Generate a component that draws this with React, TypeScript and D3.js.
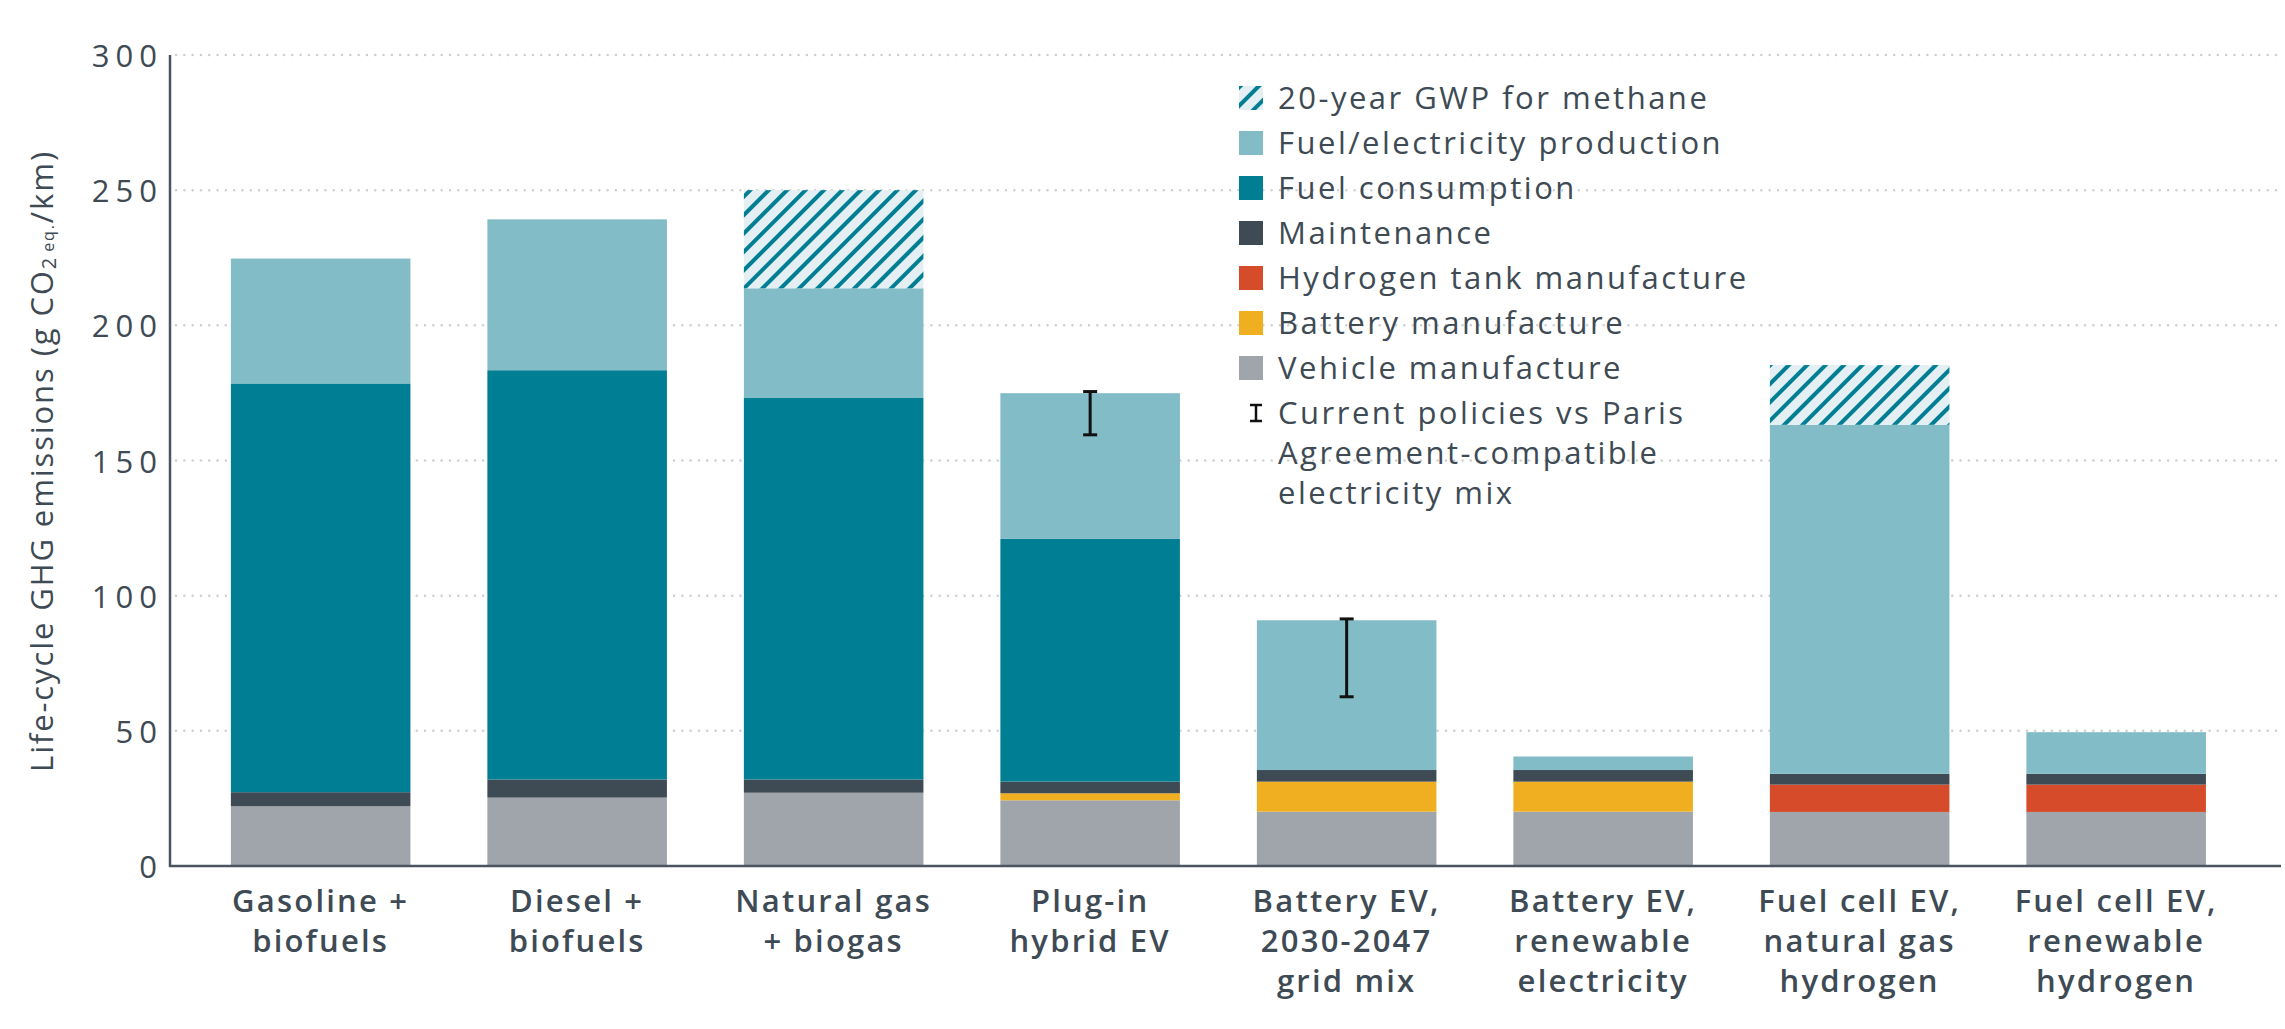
import React from "react";
import * as d3 from "d3";

// ---------- data ----------
const categoryLabels: string[][] = [
  ["Gasoline +", "biofuels"],
  ["Diesel +", "biofuels"],
  ["Natural gas", "+ biogas"],
  ["Plug-in", "hybrid EV"],
  ["Battery EV,", "2030-2047", "grid mix"],
  ["Battery EV,", "renewable", "electricity"],
  ["Fuel cell EV,", "natural gas", "hydrogen"],
  ["Fuel cell EV,", "renewable", "hydrogen"],
];
const categories = categoryLabels.map((l) => l.join(" "));

const vehicleManufacture = [22.1, 25.3, 27.1, 24.3, 20.1, 20.1, 20.0, 20.0];
const batteryManufacture = [0, 0, 0, 2.6, 11.1, 11.1, 0, 0];
const hydrogenTankManufacture = [0, 0, 0, 0, 0, 0, 10.1, 10.1];
const maintenance = [5.2, 6.7, 4.9, 4.3, 4.3, 4.3, 4.0, 4.0];
const fuelConsumption = [151.2, 151.4, 141.3, 89.8, 0, 0, 0, 0];
const fuelProduction = [46.2, 55.8, 40.4, 53.9, 55.4, 5.0, 129.1, 15.4];
const methaneGwp20 = [0, 0, 36.3, 0, 0, 0, 22.1, 0];

const errorLow: (number | null)[] = [null, null, null, 159.5, 62.6, null, null, null];
const errorHigh: (number | null)[] = [null, null, null, 175.5, 91.4, null, null, null];

const yTicks = [0, 50, 100, 150, 200, 250, 300];

const seriesKeys = [
  "vehicle",
  "battery",
  "h2tank",
  "maintenance",
  "fuelConsumption",
  "fuelProduction",
  "methane",
];
const seriesValues: Record<string, number[]> = {
  vehicle: vehicleManufacture,
  battery: batteryManufacture,
  h2tank: hydrogenTankManufacture,
  maintenance: maintenance,
  fuelConsumption: fuelConsumption,
  fuelProduction: fuelProduction,
  methane: methaneGwp20,
};
const seriesColors: Record<string, string> = {
  vehicle: "#A0A4AB",
  battery: "#F0AF20",
  h2tank: "#D64B29",
  maintenance: "#3E4A54",
  fuelConsumption: "#007E94",
  fuelProduction: "#82BCC7",
  methane: "url(#hatch)",
};
const legendItems = [
  { key: "methane", label: ["20-year GWP for methane"] },
  { key: "fuelProduction", label: ["Fuel/electricity production"] },
  { key: "fuelConsumption", label: ["Fuel consumption"] },
  { key: "maintenance", label: ["Maintenance"] },
  { key: "h2tank", label: ["Hydrogen tank manufacture"] },
  { key: "battery", label: ["Battery manufacture"] },
  { key: "vehicle", label: ["Vehicle manufacture"] },
  { key: "error", label: ["Current policies vs Paris", "Agreement-compatible", "electricity mix"] },
];

// ---------- layout ----------
const W = 2285;
const H = 1029;
const axisX = 170;
const plotRight = 2281;
const textColor = "#3E4A54";
const font = "'Open Sans', Lato, sans-serif";

export default function App() {
  const y = d3.scaleLinear().domain([0, 300]).range([866, 55]);
  const x = d3
    .scaleBand<string>()
    .domain(categories)
    .range([192.4, 2244.4])
    .paddingInner(0.3)
    .paddingOuter(0.15);

  const rows = categories.map((c, i) => {
    const r: Record<string, any> = { category: c };
    seriesKeys.forEach((k) => (r[k] = seriesValues[k][i]));
    return r;
  });
  const stacked = d3.stack<Record<string, any>>().keys(seriesKeys)(rows);

  const legendX = 1239;
  const legendTextX = 1278;
  const legendY0 = 98;
  const legendStep = 45;

  return (
    <svg
      width={W}
      height={H}
      style={{ position: "absolute", left: 0, top: 0, display: "block", background: "#fff" }}
      fontFamily={font}
    >
      <defs>
        <pattern
          id="hatch"
          patternUnits="userSpaceOnUse"
          width={13}
          height={13}
          patternTransform="rotate(45)"
        >
          <rect x={0} y={0} width={13} height={13} fill="#E3EFF2" />
          <line x1={2} y1={0} x2={2} y2={13} stroke="#007E94" strokeWidth={4} />
        </pattern>
      </defs>

      {/* gridlines */}
      {yTicks
        .filter((t) => t > 0)
        .map((t) => (
          <line
            key={"g" + t}
            x1={axisX + 6}
            x2={plotRight}
            y1={y(t)}
            y2={y(t)}
            stroke="#CDD0D3"
            strokeWidth={2.5}
            strokeDasharray="0.1 8.2"
            strokeLinecap="round"
          />
        ))}

      {/* bars */}
      {stacked.map((s) => (
        <g key={s.key} fill={seriesColors[s.key]}>
          {s.map((d, i) =>
            d[1] - d[0] > 0 ? (
              <rect
                key={i}
                x={x(categories[i])}
                width={x.bandwidth()}
                y={y(d[1])}
                height={y(d[0]) - y(d[1])}
              />
            ) : null
          )}
        </g>
      ))}

      {/* error bars */}
      {categories.map((c, i) => {
        const lo = errorLow[i];
        const hi = errorHigh[i];
        if (lo == null || hi == null) return null;
        const cx = (x(c) as number) + x.bandwidth() / 2;
        return (
          <g key={"e" + i} stroke="#111" strokeWidth={3}>
            <line x1={cx} x2={cx} y1={y(lo)} y2={y(hi)} />
            <line x1={cx - 7} x2={cx + 7} y1={y(lo)} y2={y(lo)} />
            <line x1={cx - 7} x2={cx + 7} y1={y(hi)} y2={y(hi)} />
          </g>
        );
      })}

      {/* axes */}
      <line x1={axisX} x2={axisX} y1={55} y2={867} stroke="#4A5560" strokeWidth={2.5} />
      <line x1={axisX - 1} x2={plotRight} y1={866} y2={866} stroke="#4A5560" strokeWidth={2.5} />

      {/* y tick labels */}
      {yTicks.map((t) => (
        <text
          key={"t" + t}
          x={163}
          y={y(t)}
          textAnchor="end"
          dominantBaseline="central"
          fontSize={31}
          letterSpacing={6}
          fill={textColor}
        >
          {t}
        </text>
      ))}

      {/* y title */}
      <text
        transform="translate(41,461) rotate(-90)"
        textAnchor="middle"
        dominantBaseline="central"
        fontSize={31}
        letterSpacing={1.9}
        fill={textColor}
      >
        Life-cycle GHG emissions (g CO
        <tspan fontSize={20} dy={7}>2</tspan>
        <tspan fontSize={16} dx={4}>eq.</tspan>
        <tspan dy={-7}>/km)</tspan>
      </text>

      {/* category labels */}
      {categories.map((c, i) => {
        const cx = (x(c) as number) + x.bandwidth() / 2;
        return (
          <text
            key={"c" + i}
            x={cx}
            textAnchor="middle"
            fontSize={31}
            fontWeight={600}
            letterSpacing={2.2}
            fill={textColor}
          >
            {categoryLabels[i].map((line, j) => (
              <tspan key={j} x={cx} y={912 + j * 40}>
                {line}
              </tspan>
            ))}
          </text>
        );
      })}

      {/* legend */}
      {legendItems.map((item, i) => {
        const cy = legendY0 + i * legendStep;
        return (
          <g key={"l" + item.key}>
            {item.key === "error" ? (
              <g stroke="#111" strokeWidth={2.5}>
                <line x1={1256} x2={1256} y1={cy - 8} y2={cy + 8} />
                <line x1={1250} x2={1262} y1={cy - 8} y2={cy - 8} />
                <line x1={1250} x2={1262} y1={cy + 8} y2={cy + 8} />
              </g>
            ) : (
              <rect
                x={legendX}
                y={cy - 12}
                width={24}
                height={24}
                fill={seriesColors[item.key]}
              />
            )}
            <text fontSize={31} letterSpacing={2.5} fill={textColor}>
              {item.label.map((line, j) => (
                <tspan key={j} x={legendTextX} y={cy + 11 + j * 40}>
                  {line}
                </tspan>
              ))}
            </text>
          </g>
        );
      })}
    </svg>
  );
}
